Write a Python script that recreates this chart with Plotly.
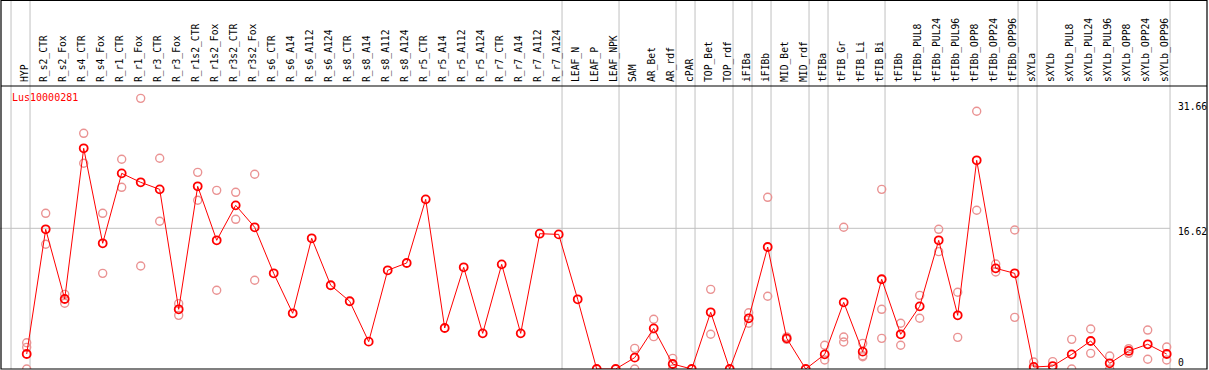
import plotly.graph_objects as go

categories = ["HYP", "R_s2_CTR", "R_s2_Fox", "R_s4_CTR", "R_s4_Fox", "R_r1_CTR", "R_r1_Fox",
              "R_r3_CTR", "R_r3_Fox", "R_r1s2_CTR", "R_r1s2_Fox", "R_r3s2_CTR", "R_r3s2_Fox",
              "R_s6_CTR", "R_s6_A14", "R_s6_A112", "R_s6_A124", "R_s8_CTR", "R_s8_A14",
              "R_s8_A112", "R_s8_A124", "R_r5_CTR", "R_r5_A14", "R_r5_A112", "R_r5_A124",
              "R_r7_CTR", "R_r7_A14", "R_r7_A112", "R_r7_A124", "LEAF_N", "LEAF_P", "LEAF_NPK",
              "SAM", "AR_Bet", "AR_rdf", "cPAR", "TOP_Bet", "TOP_rdf", "iFIBa", "iFIBb",
              "MID_Bet", "MID_rdf", "tFIBa", "tFIB_Gr", "tFIB_Li", "tFIB_Bi", "tFIBb",
              "tFIBb_PUL8", "tFIBb_PUL24", "tFIBb_PUL96", "tFIBb_OPP8", "tFIBb_OPP24",
              "tFIBb_OPP96", "sXYLa", "sXYLb", "sXYLb_PUL8", "sXYLb_PUL24", "sXYLb_PUL96",
              "sXYLb_OPP8", "sXYLb_OPP24", "sXYLb_OPP96"]

mean_values = [1.77, 16.5, 8.27, 26.07, 14.85, 23.11, 22.05, 21.22, 7.05, 21.58, 15.2, 19.33, 16.74,
               11.3, 6.58, 15.44, 9.89, 8.0, 3.23, 11.66, 12.52, 20.04, 4.84, 12.01, 4.21,
               12.36, 4.21, 15.98, 15.9, 8.23, 0.0, 0.0,
               1.34, 4.8, 0.59, 0.0, 6.7, 0.0, 5.99, 14.41, 3.62, 0.0,
               1.73, 7.87, 2.05, 10.6, 4.1, 7.4, 15.2, 6.34, 24.65, 11.89, 11.3,
               0.24, 0.35, 1.73, 3.31, 0.67, 2.13, 2.92, 1.77]

rep_a = [3.1, 18.39, 8.82, 27.84, 18.39, 24.77, 31.97, 24.89, 7.72, 23.23, 21.1, 20.87, 23.0,
         None, None, None, None, None, None, None, None, None, None, None, None,
         None, None, None, None, None, None, None,
         2.44, 5.87, 1.26, None, 9.41, None, 6.65, 20.28, 3.8, None,
         2.8, 16.74, 3.03, 21.22, 5.4, 8.7, 16.5, 9.06, 30.44, 12.4, 16.42,
         0.83, 0.87, 3.5, 4.72, 1.54, 1.85, 4.6, 2.6]
rep_b = [2.56, 14.73, 7.76, 24.3, 11.3, 21.46, 12.17, 17.45, 6.34, 19.93, 9.3, 17.68, 10.48,
         None, None, None, None, None, None, None, None, None, None, None, None,
         None, None, None, None, None, None, None,
         0.0, 3.82, 0.0, None, 4.1, None, 5.4, 8.59, 3.5, None,
         1.06, 3.78, 1.57, 7.05, 2.8, 5.99, 13.86, 3.74, 18.75, 11.46, 6.1,
         0.0, 0.0, 0.0, 1.85, 0.0, 2.4, 1.15, 1.06]
rep_c = [0.0, None, None, None, None, None, None, None, None, None, None, None, None,
         None, None, None, None, None, None, None, None, None, None, None, None,
         None, None, None, None, None, None, None,
         None, None, None, None, None, None, None, None, None, None,
         None, 3.19, 1.45, 3.62, None, None, None, None, None, None, None,
         None, None, None, None, None, None, None, None]

separator_after = [-1, 0, 28, 31, 34, 35, 37, 38, 39, 41, 42, 45, 52, 53, 60]
y_ticks = [31.66, 16.62, 0]
title_text = "Lus10000281"

W, H = 1209, 370
PX_PER_CAT = 19.0
X0_PX = 26.7
x_r0 = -X0_PX / PX_PER_CAT
x_r1 = x_r0 + W / PX_PER_CAT

PLOT_TOP_PX = 86
PLOT_BOT_PX = 369
PX_PER_UNIT = 8.466
y_top_val = (PLOT_BOT_PX - PLOT_TOP_PX) / PX_PER_UNIT
FONT = "DejaVu Sans Mono"


def py(px):
    return 1 - px / H


def pxx(px):
    return px / W


idx = list(range(len(categories)))
fig = go.Figure()

for reps in (rep_a, rep_b, rep_c):
    fig.add_trace(go.Scatter(
        x=idx, y=reps, mode="markers",
        marker=dict(symbol="circle-open", size=8, color="#EA9393", line=dict(width=1.4, color="#EA9393")),
        showlegend=False, hoverinfo="skip"))

fig.add_trace(go.Scatter(
    x=idx, y=mean_values, mode="lines+markers",
    line=dict(color="#FF0000", width=1),
    marker=dict(symbol="circle-open", size=8, color="#FF0000", line=dict(width=1.8, color="#FF0000")),
    showlegend=False))

fig.add_trace(go.Scatter(x=idx, y=[None] * len(idx), xaxis="x2", yaxis="y",
                         mode="markers", showlegend=False, hoverinfo="skip"))

shapes = []
for k in separator_after:
    xv = k + 0.175
    shapes.append(dict(type="line", xref="x", yref="paper", x0=xv, x1=xv, y0=py(PLOT_BOT_PX), y1=1,
                       line=dict(color="#C0C0C0", width=1), layer="below"))
shapes.append(dict(type="line", xref="x", yref="y", x0=x_r0, x1=60.175, y0=y_ticks[1], y1=y_ticks[1],
                   line=dict(color="#C0C0C0", width=1), layer="below"))
shapes.append(dict(type="rect", xref="paper", yref="paper", x0=pxx(1), x1=pxx(1207),
                   y0=py(PLOT_BOT_PX), y1=py(0.5), line=dict(color="black", width=1.2)))
shapes.append(dict(type="line", xref="paper", yref="paper", x0=pxx(1), x1=pxx(1207),
                   y0=py(PLOT_TOP_PX), y1=py(PLOT_TOP_PX), line=dict(color="black", width=1.2)))

annotations = [dict(text=title_text, xref="paper", yref="paper", x=pxx(10), y=py(97),
                    xanchor="left", yanchor="middle", showarrow=False,
                    font=dict(family=FONT, size=10, color="#FF0000"))]
for val, ypx in zip(y_ticks, [107, 231.5, 362]):
    annotations.append(dict(text=str(val) if val else "0", xref="paper", yref="paper",
                            x=pxx(1176), y=py(ypx), xanchor="left", yanchor="middle",
                            showarrow=False,
                            font=dict(family=FONT, size=9.7, color="black")))

fig.update_layout(
    width=W, height=H,
    margin=dict(l=0, r=0, t=0, b=0),
    paper_bgcolor="white", plot_bgcolor="white",
    xaxis=dict(domain=[0, 1], range=[x_r0, x_r1], showgrid=False, zeroline=False,
               showticklabels=False, ticks="", showline=False),
    xaxis2=dict(overlaying="x", side="top", anchor="y", range=[x_r0 + 0.08, x_r1 + 0.08],
                tickmode="array", tickvals=idx, ticktext=categories, tickangle=-90,
                showgrid=False, zeroline=False, ticks="", showline=False,
                ticklabelstandoff=3,
                tickfont=dict(family=FONT, size=9.7, color="black")),
    yaxis=dict(domain=[py(PLOT_BOT_PX), py(PLOT_TOP_PX)], range=[0, y_top_val],
               showgrid=False, zeroline=False, showticklabels=False, ticks="", showline=False),
    shapes=shapes, annotations=annotations,
)

fig.write_html("out.html", config={"displayModeBar": False},
               post_script="document.body.style.margin='0';document.body.style.overflow='hidden';")
